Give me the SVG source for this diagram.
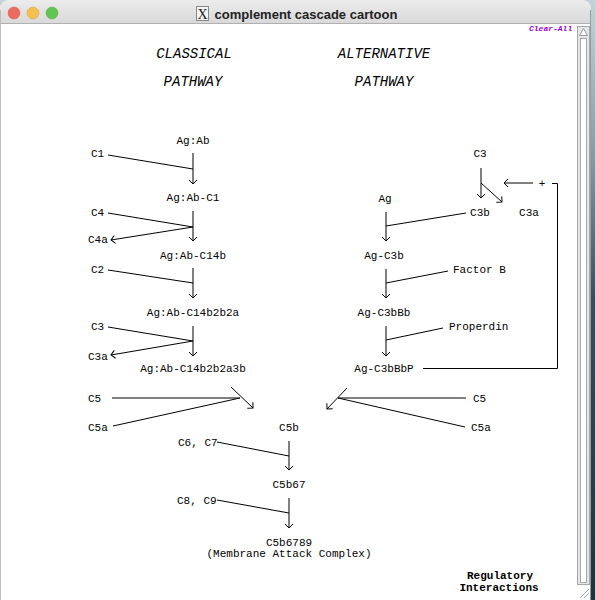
<svg xmlns="http://www.w3.org/2000/svg" width="595" height="600" viewBox="0 0 595 600">
<defs>
<linearGradient id="desk" x1="0" y1="0" x2="0" y2="1">
<stop offset="0" stop-color="#c3d3d8"/><stop offset="0.25" stop-color="#8a9ea8"/><stop offset="0.5" stop-color="#3c4c5a"/><stop offset="1" stop-color="#24303c"/>
</linearGradient>
<linearGradient id="tb" x1="0" y1="0" x2="0" y2="1">
<stop offset="0" stop-color="#ececec"/><stop offset="1" stop-color="#d9d9d9"/>
</linearGradient>
<marker id="ah" markerWidth="10" markerHeight="10" refX="8" refY="5" orient="auto" markerUnits="userSpaceOnUse">
<path d="M4,1 L8,5 L4,9" fill="none" stroke="#000" stroke-width="1"/>
</marker>
<style>
.t{font-family:"Liberation Mono","DejaVu Sans Mono",monospace;font-size:11px;fill:#000}
.m{text-anchor:middle}
.h{font-family:"Liberation Mono","DejaVu Sans Mono",monospace;font-size:14px;font-style:italic;text-anchor:middle;fill:#000}
.b{font-weight:bold}
.c line,.c polyline{stroke:#000;stroke-width:1;fill:none}
.a{marker-end:url(#ah)}
</style>
</defs>
<rect x="0" y="0" width="595" height="600" fill="url(#desk)"/>
<path d="M0,10 Q0,0 10,0 L581,0 Q591,0 591,10 L591,600 L0,600 Z" fill="#fff"/>
<path d="M0,10 Q0,0 10,0 L581,0 Q591,0 591,10 L591,23 L0,23 Z" fill="url(#tb)"/>
<line x1="0" y1="23.5" x2="591" y2="23.5" stroke="#b0b0b0"/>
<line x1="0.5" y1="10" x2="0.5" y2="600" stroke="#bdbdbd"/>
<line x1="590.5" y1="10" x2="590.5" y2="600" stroke="#9a9a9a"/>
<circle cx="14" cy="13" r="6" fill="#ec6a5e" stroke="#d0554a" stroke-width="0.5"/>
<circle cx="33" cy="13" r="6" fill="#f4bf4f" stroke="#d6a243" stroke-width="0.5"/>
<circle cx="52" cy="13" r="6" fill="#61c554" stroke="#52a842" stroke-width="0.5"/>
<rect x="196.5" y="6.5" width="12" height="14" fill="#f4f4f4" stroke="#888"/>
<text x="202.5" y="18.5" font-family="Liberation Serif,serif" font-size="14" text-anchor="middle" fill="#222">X</text>
<text x="306" y="18.5" font-family="Liberation Sans,Arial,sans-serif" font-size="13" font-weight="bold" text-anchor="middle" fill="#222">complement cascade cartoon</text>
<g id="scrollbar">
<rect x="577.5" y="26.5" width="12" height="558" fill="#e6e6e6" stroke="#a8a8a8"/>
<path d="M583.5,28.5 L579.5,35.5 L587.5,35.5 Z" fill="#fff" stroke="#999"/>
<rect x="580.5" y="38.5" width="6" height="544" fill="#fff" stroke="#a8a8a8"/>
<line x1="580" y1="598" x2="589" y2="589" stroke="#aaa"/>
<line x1="584" y1="598" x2="589" y2="593" stroke="#aaa"/>
</g>
<text x="529" y="31" font-family="Liberation Mono,monospace" font-size="8" font-style="italic" font-weight="bold" fill="#9a00e0">Clear-All</text>
<g id="headings">
<text class="h" x="194" y="58">CLASSICAL</text>
<text class="h" x="384" y="58">ALTERNATIVE</text>
<text class="h" x="193" y="86">PATHWAY</text>
<text class="h" x="384" y="86">PATHWAY</text>
</g>
<g id="connectors" class="c">
<line class="a" x1="193" y1="153" x2="193" y2="184"/>
<line x1="108" y1="155" x2="193" y2="169"/>
<line class="a" x1="193" y1="211" x2="193" y2="241"/>
<line x1="108" y1="213" x2="193" y2="227"/>
<line class="a" x1="193" y1="227" x2="111" y2="240"/>
<line class="a" x1="193" y1="268" x2="193" y2="298"/>
<line x1="108" y1="270" x2="193" y2="283"/>
<line class="a" x1="193" y1="326" x2="193" y2="356"/>
<line x1="108" y1="327" x2="193" y2="341"/>
<line class="a" x1="193" y1="341" x2="111" y2="355"/>
<line x1="112" y1="398" x2="240" y2="398"/>
<line x1="113" y1="426" x2="240" y2="398"/>
<line class="a" x1="231" y1="387" x2="253" y2="408"/>
<line x1="466" y1="398" x2="338" y2="398"/>
<line x1="465" y1="427" x2="338" y2="398"/>
<line class="a" x1="347" y1="388" x2="327" y2="409"/>
<line class="a" x1="289" y1="441" x2="289" y2="470"/>
<line x1="217" y1="442" x2="289" y2="456"/>
<line class="a" x1="289" y1="498" x2="289" y2="528"/>
<line x1="217" y1="500" x2="289" y2="513"/>
<line class="a" x1="481" y1="168" x2="481" y2="198"/>
<line class="a" x1="481" y1="183" x2="502" y2="202"/>
<line class="a" x1="533" y1="183" x2="504" y2="183"/>
<polyline points="552,183.5 557.5,183.5 557.5,368.5 423,368.5"/>
<line x1="466" y1="213" x2="386" y2="226"/>
<line class="a" x1="386" y1="212" x2="386" y2="241"/>
<line x1="448" y1="271" x2="386" y2="283"/>
<line class="a" x1="386" y1="269" x2="386" y2="298"/>
<line x1="443" y1="328" x2="386" y2="340"/>
<line class="a" x1="386" y1="326" x2="386" y2="356"/>
</g>
<g id="n-agab"><text class="t m" x="193" y="144">Ag:Ab</text></g>
<g id="n-c1"><text class="t" x="91" y="157">C1</text></g>
<g id="n-agabc1"><text class="t m" x="193" y="201">Ag:Ab-C1</text></g>
<g id="n-c4"><text class="t" x="91" y="216">C4</text></g>
<g id="n-c4a"><text class="t" x="88" y="243">C4a</text></g>
<g id="n-agabc14b"><text class="t m" x="193" y="259">Ag:Ab-C14b</text></g>
<g id="n-c2"><text class="t" x="91" y="273">C2</text></g>
<g id="n-agabc14b2b2a"><text class="t m" x="193" y="316">Ag:Ab-C14b2b2a</text></g>
<g id="n-c3l"><text class="t" x="91" y="330">C3</text></g>
<g id="n-c3al"><text class="t" x="88" y="360">C3a</text></g>
<g id="n-agabc14b2b2a3b"><text class="t m" x="193" y="372">Ag:Ab-C14b2b2a3b</text></g>
<g id="n-c5l"><text class="t" x="88" y="402">C5</text></g>
<g id="n-c5al"><text class="t" x="88" y="431">C5a</text></g>
<g id="n-c3"><text class="t m" x="480" y="157">C3</text></g>
<g id="n-plus"><text class="t m" x="542" y="187">+</text></g>
<g id="n-ag"><text class="t m" x="385" y="202">Ag</text></g>
<g id="n-c3b"><text class="t m" x="480" y="216">C3b</text></g>
<g id="n-c3a"><text class="t m" x="529" y="216">C3a</text></g>
<g id="n-agc3b"><text class="t m" x="384" y="259">Ag-C3b</text></g>
<g id="n-factorb"><text class="t" x="453" y="273">Factor B</text></g>
<g id="n-agc3bbb"><text class="t m" x="384" y="316">Ag-C3bBb</text></g>
<g id="n-properdin"><text class="t" x="449" y="330">Properdin</text></g>
<g id="n-agc3bbbp"><text class="t m" x="384" y="372">Ag-C3bBbP</text></g>
<g id="n-c5r"><text class="t" x="473" y="402">C5</text></g>
<g id="n-c5ar"><text class="t" x="471" y="431">C5a</text></g>
<g id="n-c5b"><text class="t m" x="289" y="431">C5b</text></g>
<g id="n-c6c7"><text class="t" x="178" y="446">C6, C7</text></g>
<g id="n-c5b67"><text class="t m" x="289" y="488">C5b67</text></g>
<g id="n-c8c9"><text class="t" x="177" y="504">C8, C9</text></g>
<g id="n-mac"><text class="t m" x="289" y="546">C5b6789</text><text class="t m" x="289" y="557">(Membrane Attack Complex)</text></g>
<g id="n-reg"><text class="t m b" x="500" y="579">Regulatory</text><text class="t m b" x="499" y="591">Interactions</text></g>
</svg>
